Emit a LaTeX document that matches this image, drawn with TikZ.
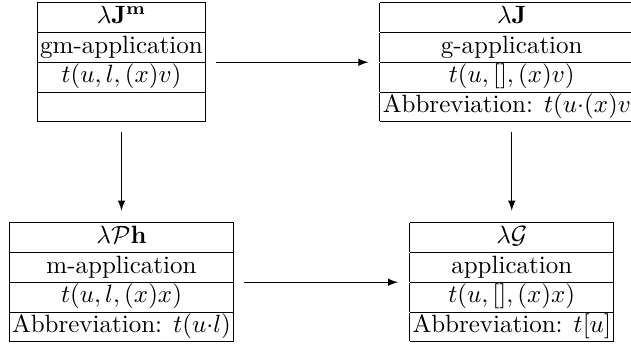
\documentclass[tikz,border=0pt]{standalone}
\usetikzlibrary{arrows}
\setlength{\tabcolsep}{1.2pt}
\renewcommand{\arraystretch}{0.96}
\tikzset{
  box/.style={inner sep=0pt, outer sep=0pt},
  arr/.style={-latex, shorten <=4pt, shorten >=4.6pt}
}
\begin{document}
\begin{tikzpicture}[x=1pt,y=1pt]
\useasboundingbox (0,0) rectangle (252.4,-138);
\clip (0,0) rectangle (252.4,-138);
\node[box] (A) at (48.6,-24.9) {\begin{tabular}{|c|}\hline
$\lambda\mathbf{J}^{\mathbf{m}}$\\\hline
gm-application\\\hline
$t(u,l,(x)v)$\\\hline
\\\hline\end{tabular}};
\node[box] (B) at (204.7,-24.9) {\begin{tabular}{|c|}\hline
$\lambda\mathbf{J}$\\\hline
g-application\\\hline
$t(u,[],(x)v)$\\\hline
Abbreviation: $t(u{\cdot}(x)v)$\\\hline\end{tabular}};
\node[box] (C) at (48.6,-112.9) {\begin{tabular}{|c|}\hline
$\lambda\mathcal{P}\mathbf{h}$\\\hline
m-application\\\hline
$t(u,l,(x)x)$\\\hline
Abbreviation: $t(u{\cdot}l)$\\\hline\end{tabular}};
\node[box] (D) at (204.7,-112.9) {\begin{tabular}{|c|}\hline
$\lambda\mathcal{G}$\\\hline
application\\\hline
$t(u,[],(x)x)$\\\hline
Abbreviation: $t[u]$\\\hline\end{tabular}};
\draw[arr] (A) -- (B);
\draw[arr] (A) -- (C);
\draw[arr] (B) -- (D);
\draw[arr] (C) -- (D);
\end{tikzpicture}
\end{document}
